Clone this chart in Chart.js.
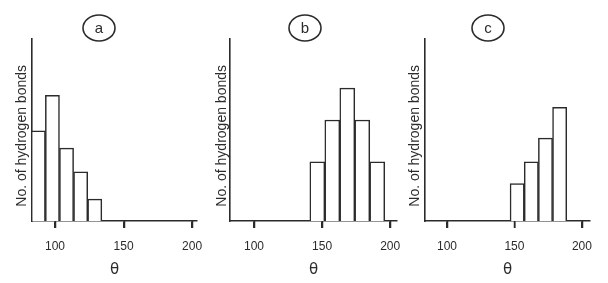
<!DOCTYPE html>
<html>
<head>
<meta charset="utf-8">
<script src="https://cdn.jsdelivr.net/npm/chart.js@4/dist/chart.umd.min.js"></script>
<style>
    body { margin: 0; background: #fff; width: 608px; height: 283px; position: relative; overflow: hidden; }
    canvas { position: absolute; top: 0; }
</style>
</head>
<body>
<canvas id="plot_a" width="210" height="283" style="left:0"></canvas>
<canvas id="plot_b" width="210" height="283" style="left:200px"></canvas>
<canvas id="plot_c" width="208" height="283" style="left:400px"></canvas>
<script>
'use strict';

// bin centres (degrees) and bar heights
var thetaA = [87.8, 98.1, 108.4, 118.7, 129];
var countA = [9.9, 13.8, 8.0, 5.4, 2.4];

var thetaB = [146.5, 157.5, 168.5, 179.5, 190.5];
var countB = [6.5, 11.1, 14.6, 11.1, 6.5];

var thetaC = [152, 162.5, 173, 183.5];
var countC = [4.1, 6.5, 9.1, 12.5];

var xTicks = [100, 150, 200];
var panelLetters = ['a', 'b', 'c'];
var yTitle = 'No. of hydrogen bonds   ';
var xTitle = 'θ';

var INK = '#2b2b2b';

// draws the circled panel letter above each histogram
var circleLabel = {
    id: 'circleLabel',
    afterDraw: function (chart, args, opts) {
        var ctx = chart.ctx;
        ctx.save();
        ctx.strokeStyle = INK;
        ctx.lineWidth = 1.6;
        ctx.beginPath();
        ctx.ellipse(opts.x, opts.y, 16, 13, 0, 0, Math.PI * 2);
        ctx.stroke();
        ctx.fillStyle = INK;
        ctx.font = '15px "Liberation Sans", Arial, sans-serif';
        ctx.textAlign = 'center';
        ctx.textBaseline = 'middle';
        ctx.fillText(opts.text, opts.x, opts.y + 1);
        ctx.restore();
    }
};

// short tick marks hanging under the theta axis at each tick value
var xTickMarks = {
    id: 'xTickMarks',
    afterDraw: function (chart) {
        var sx = chart.scales.x;
        var ctx = chart.ctx;
        ctx.save();
        ctx.strokeStyle = INK;
        ctx.lineWidth = 1.5;
        ctx.beginPath();
        xTicks.forEach(function (v) {
            var px = Math.round(sx.getPixelForValue(v)) + 0.5;
            ctx.moveTo(px, sx.top);
            ctx.lineTo(px, sx.top + 7);
        });
        ctx.stroke();
        ctx.restore();
    }
};

function DrawHistogram(container, theta, count, letter, layout) {
    var ctx = document.getElementById(container).getContext('2d');
    new Chart(ctx, {
        type: 'bar',
        data: {
            datasets: [{
                data: theta.map(function (t, i) { return { x: t, y: count[i] }; }),
                backgroundColor: '#fff',
                borderColor: INK,
                borderWidth: 1.5,
                barPercentage: 1,
                categoryPercentage: 1
            }]
        },
        options: {
            responsive: false,
            animation: false,
            layout: {
                padding: { top: 39, right: layout.padRight, bottom: 0, left: 0 }
            },
            plugins: {
                legend: { display: false },
                tooltip: { enabled: false },
                circleLabel: { text: letter, x: layout.circleX, y: 28 }
            },
            scales: {
                x: {
                    type: 'linear',
                    offset: false,
                    min: layout.xMin,
                    max: layout.xMax,
                    afterBuildTicks: function (axis) {
                        axis.ticks = xTicks.map(function (v) { return { value: v }; });
                    },
                    afterFit: function (axis) {
                        axis.height = 62;
                        axis.paddingLeft = 0;
                        axis.paddingRight = 0;
                    },
                    grid: {
                        display: true, offset: false, drawOnChartArea: false, drawTicks: true, tickLength: 7,
                        color: INK, lineWidth: 1.5
                    },
                    border: { display: true, color: INK, width: 1.6 },
                    ticks: { color: INK, padding: 11, font: { size: 12, family: '"Liberation Sans", Arial, sans-serif' } },
                    title: {
                        display: true,
                        text: xTitle,
                        color: INK,
                        padding: { top: 0, bottom: 4 },
                        font: { size: 15, family: '"DejaVu Sans", sans-serif' }
                    }
                },
                y: {
                    min: 0,
                    max: 20,
                    afterFit: function (axis) { axis.width = layout.axisLeft; },
                    grid: { display: false },
                    border: { display: true, color: INK, width: 1.6 },
                    ticks: { display: false },
                    title: {
                        display: true,
                        text: yTitle,
                        color: INK,
                        padding: { top: layout.titleX - 8.4, bottom: 0 },
                        font: { size: 14, family: '"Liberation Sans Narrow", "Liberation Sans", Arial, sans-serif' }
                    }
                }
            }
        },
        plugins: [circleLabel, xTickMarks]
    });
}

DrawHistogram('plot_a', thetaA, countA, panelLetters[0], { xMin: 83.2, xMax: 203.6, axisLeft: 32, titleX: 22, padRight: 13, circleX: 99 });
DrawHistogram('plot_b', thetaB, countB, panelLetters[1], { xMin: 82.4, xMax: 205, axisLeft: 30, titleX: 22, padRight: 13, circleX: 105 });
DrawHistogram('plot_c', thetaC, countC, panelLetters[2], { xMin: 83.7, xMax: 206, axisLeft: 25, titleX: 15, padRight: 18, circleX: 88 });
</script>
</body>
</html>
